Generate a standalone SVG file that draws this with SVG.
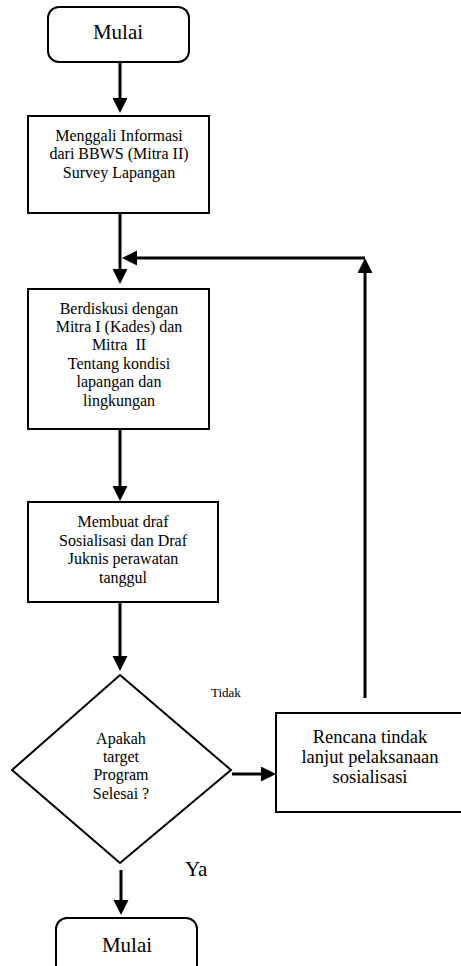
<svg xmlns="http://www.w3.org/2000/svg" width="461" height="966" viewBox="0 0 461 966">
<style>
.box{fill:#fff;stroke:#000;stroke-width:2}
text{font-family:'Liberation Serif', Tinos, 'Times New Roman', 'DejaVu Serif', serif;fill:#000;text-anchor:middle;font-size:16px}
.big{font-size:21px}
.conn line{stroke:#000;stroke-width:3;fill:none}
</style>
<defs>
<marker id="ah" markerUnits="userSpaceOnUse" markerWidth="16" markerHeight="16" refX="0" refY="7.5" orient="auto">
<path d="M0,0 L15,7.5 L0,15 z" fill="#000"/>
</marker>
</defs>
<rect width="461" height="966" fill="#fff"/>
<g id="start">
<rect class="box" x="48" y="7" width="141" height="55" rx="11"/>
<text class="big" x="118" y="39">Mulai</text>
</g>
<g id="step1">
<rect class="box" x="28" y="116" width="181" height="97"/>
<text x="119" y="141">Menggali Informasi</text>
<text x="119" y="159">dari BBWS (Mitra II)</text>
<text x="119" y="178">Survey Lapangan</text>
</g>
<g id="step2">
<rect class="box" x="28" y="289" width="181" height="140"/>
<text x="119" y="314">Berdiskusi dengan</text>
<text x="119" y="332">Mitra I (Kades) dan</text>
<text x="119" y="350" xml:space="preserve">Mitra  II</text>
<text x="119" y="369">Tentang kondisi</text>
<text x="119" y="387">lapangan dan</text>
<text x="119" y="406">lingkungan</text>
</g>
<g id="step3">
<rect class="box" x="28" y="502" width="190" height="100"/>
<text x="123" y="527">Membuat draf</text>
<text x="123" y="546">Sosialisasi dan Draf</text>
<text x="123" y="564">Juknis perawatan</text>
<text x="123" y="583">tanggul</text>
</g>
<g id="decision">
<polygon class="box" points="120,675 231,770 120,863 12,770"/>
<text x="121" y="744">Apakah</text>
<text x="121" y="762">target</text>
<text x="121" y="780">Program</text>
<text x="121" y="799">Selesai ?</text>
</g>
<g id="followup">
<rect class="box" x="276" y="713" width="190" height="99"/>
<text x="370" y="743" style="font-size:18.5px">Rencana tindak</text>
<text x="370" y="763" style="font-size:18.5px">lanjut pelaksanaan</text>
<text x="370" y="783" style="font-size:18.5px">sosialisasi</text>
</g>
<g id="end">
<rect class="box" x="56" y="918" width="141" height="70" rx="11"/>
<text class="big" x="127" y="952">Mulai</text>
</g>
<g id="connectors" class="conn">
<line x1="120" y1="62" x2="120" y2="98" marker-end="url(#ah)"/>
<line x1="120" y1="213" x2="120" y2="269" marker-end="url(#ah)"/>
<line x1="365" y1="258" x2="137" y2="258" marker-end="url(#ah)"/>
<line x1="365" y1="698" x2="365" y2="273" marker-end="url(#ah)"/>
<line x1="120" y1="429" x2="120" y2="486" marker-end="url(#ah)"/>
<line x1="120" y1="602" x2="120" y2="656" marker-end="url(#ah)"/>
<line x1="232" y1="774" x2="261" y2="774" marker-end="url(#ah)"/>
<line x1="121" y1="870" x2="121" y2="900" marker-end="url(#ah)"/>
<text x="211" y="697" style="font-size:13px;text-anchor:start">Tidak</text>
<text class="big" x="185" y="876" style="text-anchor:start">Ya</text>
</g>
</svg>
